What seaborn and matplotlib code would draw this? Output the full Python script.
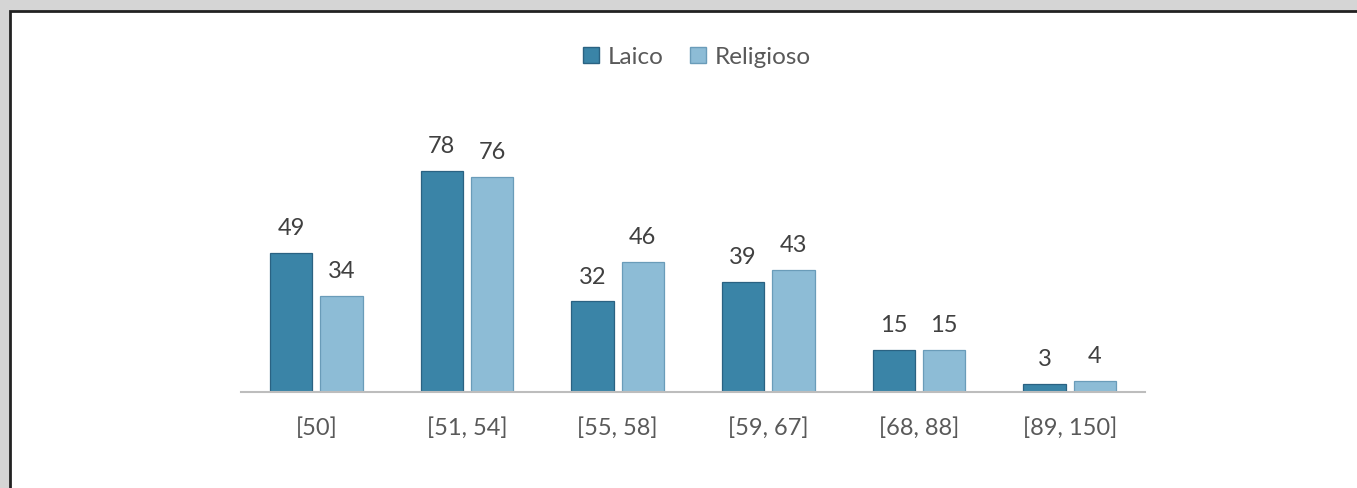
import matplotlib
matplotlib.use("Agg")
import matplotlib.pyplot as plt
import matplotlib.patches as mpatches
import seaborn as sns
import pandas as pd

# values
rangos = ["[50]", "[51, 54]", "[55, 58]", "[59, 67]", "[68, 88]", "[89, 150]"]
laico = [49, 78, 32, 39, 15, 3]
religioso = [34, 76, 46, 43, 15, 4]
series = ["Laico", "Religioso"]
colores = ["#3a84a7", "#8dbcd6"]
bordes = ["#2a6282", "#6a9cb9"]

df = pd.DataFrame({
    "rango": rangos * 2,
    "n": laico + religioso,
    "tipo": [series[0]] * len(rangos) + [series[1]] * len(rangos),
})

sns.set_style("white")
plt.rcParams["font.family"] = ["Lato", "DejaVu Sans"]

fig = plt.figure(figsize=(13.57, 4.88), dpi=100)
fig.patch.set_facecolor("#d5d5d5")

# white panel with dark border
W, H = 1357, 488
panel = mpatches.Rectangle((9.5 / W, -0.05), 1.1, (H - 10.5) / H + 0.05,
                           transform=fig.transFigure, facecolor="white",
                           edgecolor="#222222", linewidth=2, zorder=-10)
fig.patches.append(panel)

ax = fig.add_axes([241 / W, (H - 392) / H, (1145 - 241) / W, 0.6])
ax.set_facecolor("none")
ax.set_zorder(1)

sns.barplot(data=df, x="rango", y="n", hue="tipo", palette=colores,
            saturation=1, width=0.67, gap=0.165, linewidth=0.9,
            ax=ax, legend=False)
for cont, borde in zip(ax.containers, bordes):
    for bar in cont:
        bar.set_edgecolor(borde)

for cont in ax.containers:
    ax.bar_label(cont, padding=10, fontsize=17, color="#404040")

ax.set_xlim(-0.5, len(rangos) - 0.5)
ax.set_ylim(0, 103.5)
ax.set_xlabel("")
ax.set_ylabel("")
ax.set_yticks([])
ax.tick_params(axis="x", length=0, pad=18, labelsize=17, labelcolor="#595959")
for s in ["top", "left", "right"]:
    ax.spines[s].set_visible(False)
ax.spines["bottom"].set_color("#bdbdbd")
ax.spines["bottom"].set_linewidth(1.5)

handles = [mpatches.Patch(facecolor=c, edgecolor=b) for c, b in zip(colores, bordes)]
fig.legend(handles, series, loc="center", bbox_to_anchor=(697 / W, (H - 57) / H),
           ncol=2, frameon=False, fontsize=17.5, labelcolor="#595959",
           handlelength=0.65, handleheight=0.65, handletextpad=0.35, columnspacing=1.1)

fig.savefig("out.png", dpi=100, facecolor=fig.get_facecolor())
